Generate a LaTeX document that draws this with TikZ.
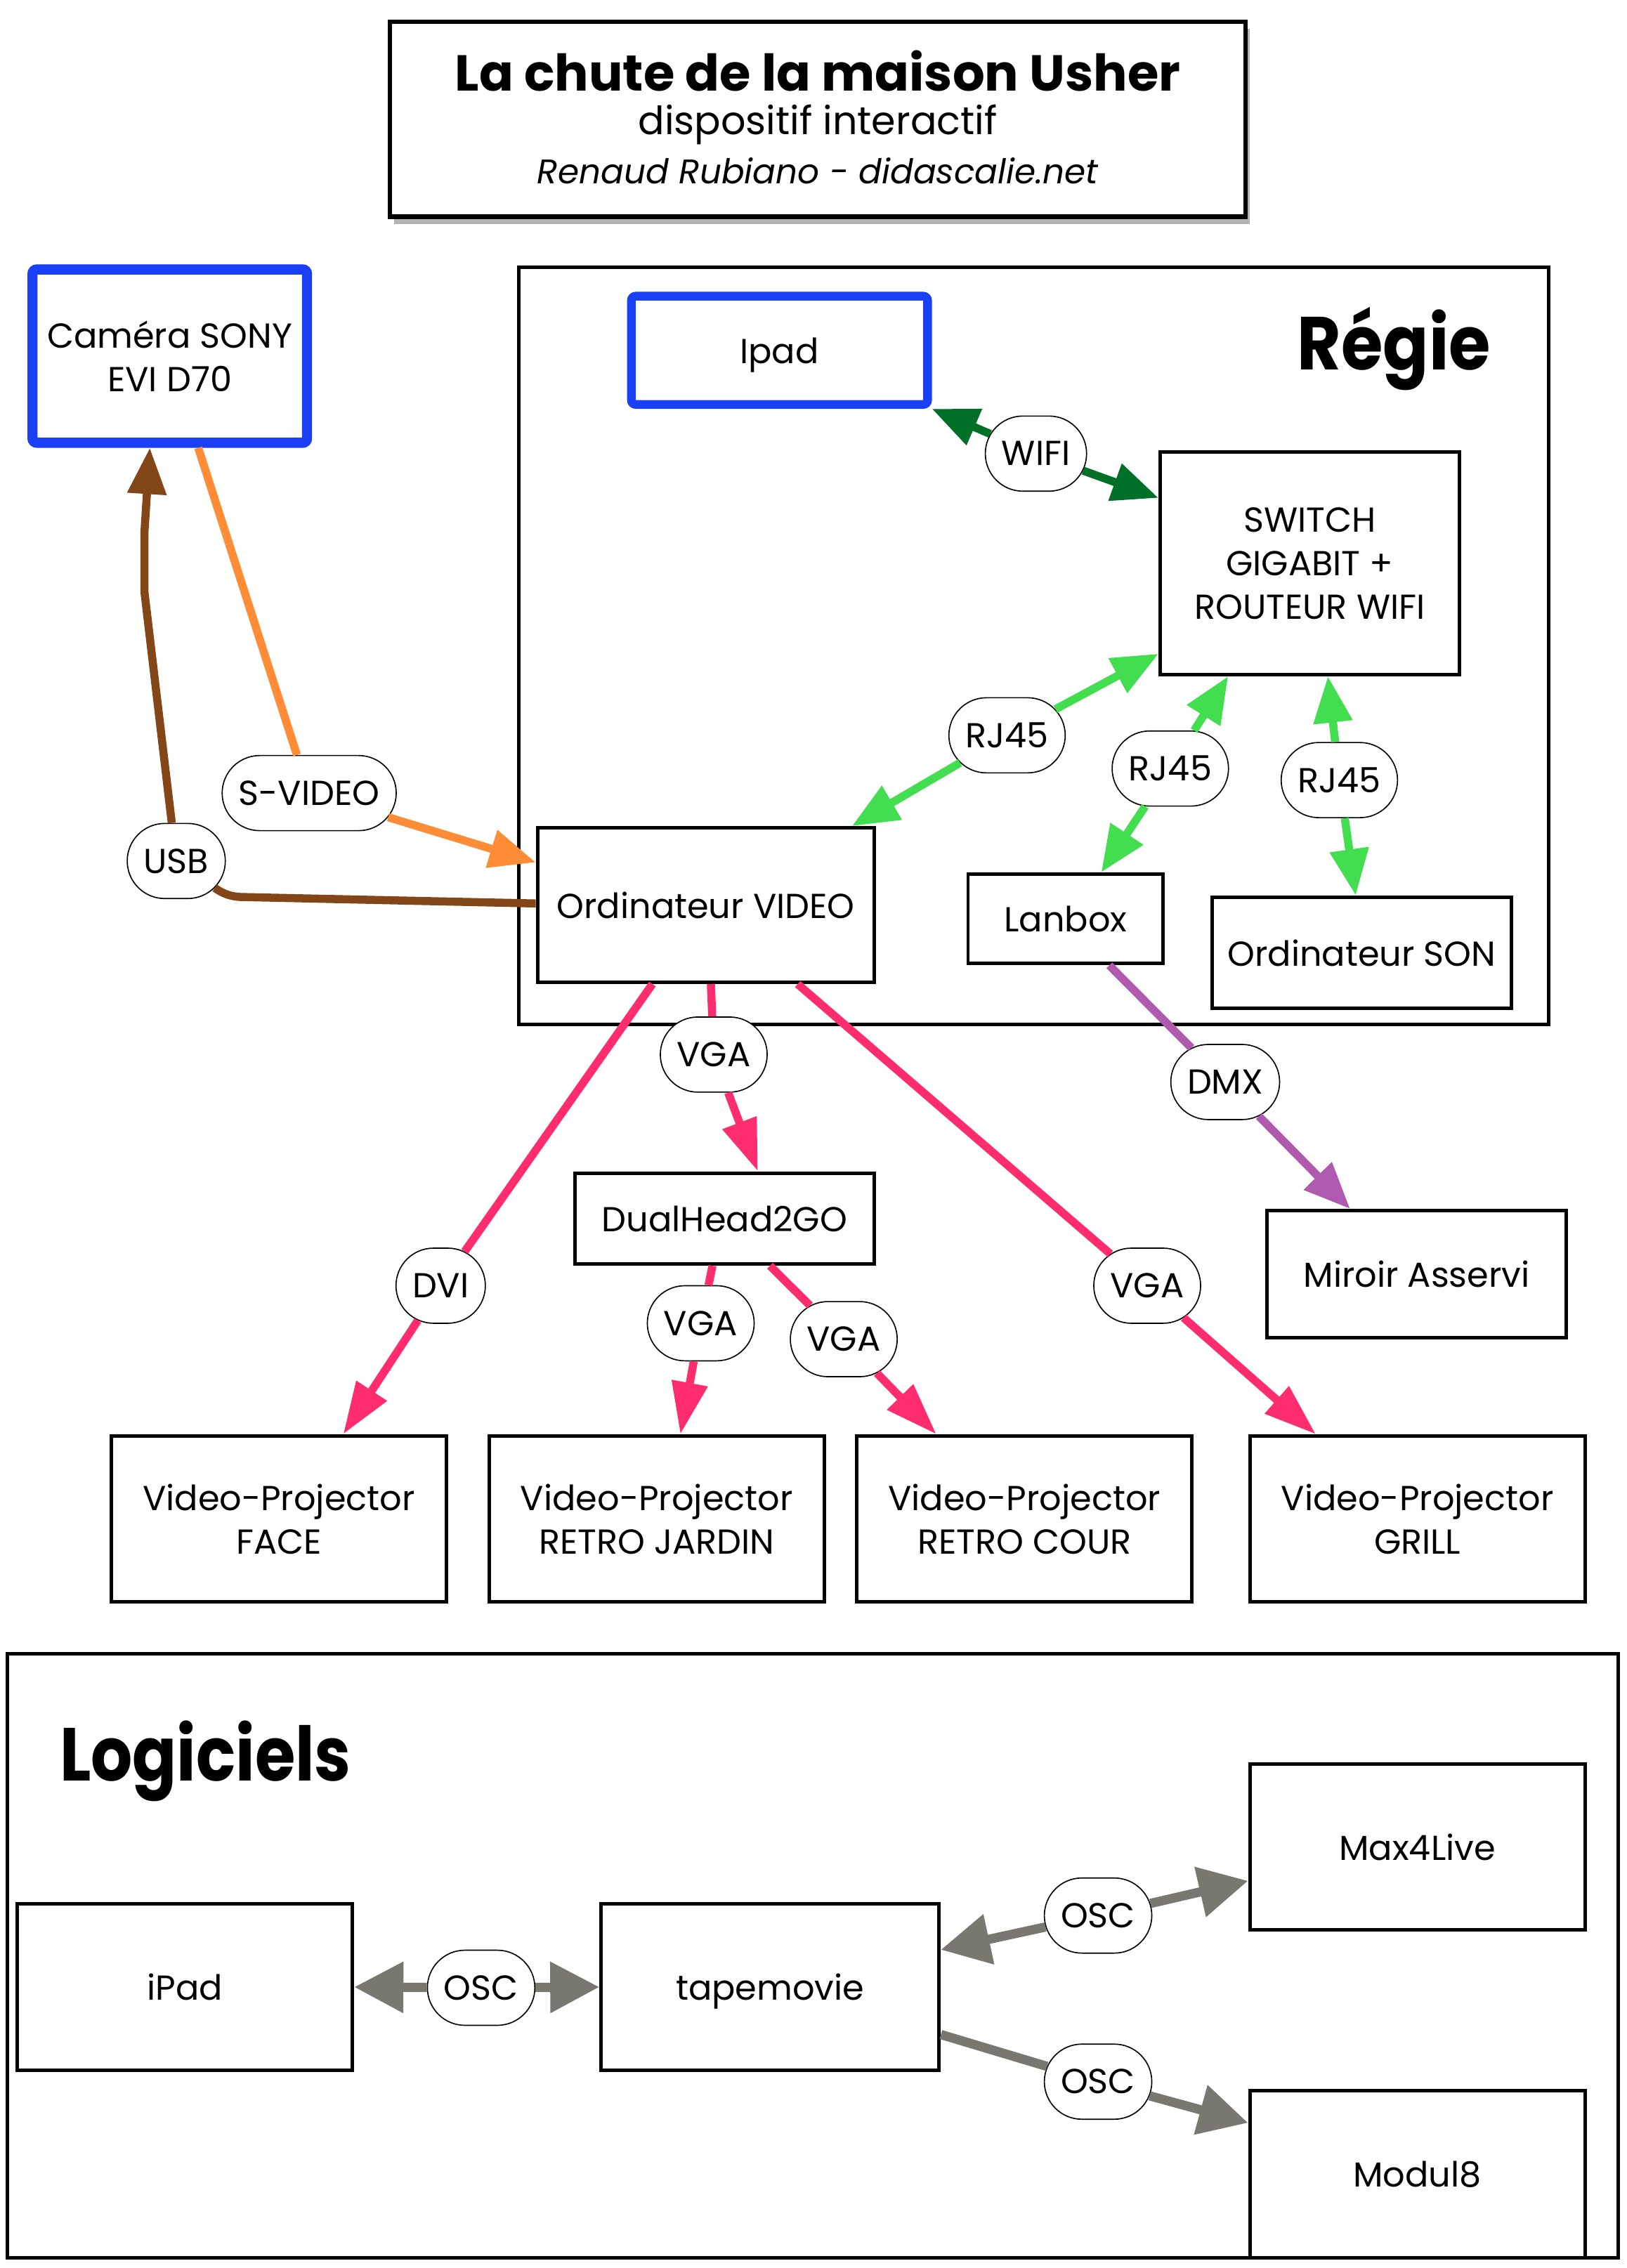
\documentclass[tikz,border=0pt]{standalone}
\usepackage{fontspec}
\setmainfont{Poppins}
\usetikzlibrary{arrows.meta,shapes.misc,shadows,calc}
\definecolor{camblue}{RGB}{25,64,245}
\definecolor{wifigreen}{RGB}{0,112,40}
\definecolor{rjgreen}{RGB}{66,222,80}
\definecolor{vgapink}{RGB}{255,45,110}
\definecolor{svorange}{RGB}{255,140,55}
\definecolor{usbbrown}{RGB}{130,70,25}
\definecolor{dmxpurple}{RGB}{175,90,175}
\definecolor{oscgrey}{RGB}{120,120,112}
\tikzset{
  box/.style={draw=black, line width=1.2pt, fill=white, inner sep=0pt, align=center, font=\fontsize{12}{15}\selectfont},
  onebox/.style={box, text depth=0pt},
  bluebox/.style={box, draw=camblue, line width=3.5pt, rounded corners=1.5pt},
  lbl/.style={draw=black, line width=0.4pt, fill=white, rounded rectangle, minimum height=26pt, inner xsep=5pt, font=\fontsize{12}{14}\selectfont},
  conn/.style={line width=2.8pt},
  tip/.style={-{Triangle[length=16pt,width=13pt]}},
  ptip/.style={-{Triangle[length=18pt,width=12pt]}},
  gtip/.style={-{Triangle[length=17pt,width=17pt]}},
}
\begin{document}
\begin{tikzpicture}[x=0.5pt,y=-0.5pt]
\useasboundingbox (0,0) rectangle (1126,1570);
% frames
\node[draw=black, line width=1.2pt, minimum width=356.5pt, minimum height=262pt, inner sep=0pt] (regie) at (715.5,447) {};
\node[draw=black, line width=1.2pt, minimum width=557.5pt, minimum height=209pt, inner sep=0pt] (logi) at (562.5,1354) {};
\node[font=\bfseries\fontsize{26}{28}\selectfont, anchor=base east, inner sep=0pt] (regiet) at (1032,256) {\scalebox{0.9}[1]{Régie}};
\node[font=\bfseries\fontsize{26}{28}\selectfont, anchor=base west, inner sep=0pt] (logit) at (41,1233) {\scalebox{0.87}[1]{Logiciels}};
% title
\node[draw=black, line width=1.5pt, fill=white, minimum width=296pt, minimum height=67.5pt, inner sep=0pt,
      drop shadow={shadow xshift=1.5pt, shadow yshift=-2.5pt, opacity=0.6}] (title) at (566,82.5) {};
\node[font=\bfseries\fontsize{17.5}{20}\selectfont, anchor=base, inner sep=0pt] (t1) at (566,63) {La chute de la maison Usher};
\node[font=\fontsize{13.5}{16}\selectfont, anchor=base, inner sep=0pt] (t2) at (566,93) {dispositif interactif};
\node[font=\itshape\fontsize{11.8}{14}\selectfont, anchor=base, inner sep=0pt] (t3) at (566,127) {Renaud Rubiano - didascalie.net};
% boxes
\node[bluebox, minimum width=95pt, minimum height=60pt] (cam) at (117.5,246.5) {Caméra SONY\\EVI D70};
\node[bluebox, text depth=0pt, line width=3pt, minimum width=102.5pt, minimum height=37.5pt] (ipad) at (539.5,242.5) {Ipad};
\node[box, minimum width=103.5pt, minimum height=77pt] (sw) at (906.5,390) {SWITCH\\GIGABIT +\\ROUTEUR WIFI};
\node[onebox, minimum width=116.5pt, minimum height=53.5pt] (ov) at (488.5,626.5) {Ordinateur VIDEO};
\node[onebox, minimum width=67.5pt, minimum height=31pt] (lan) at (737.5,636) {Lanbox};
\node[onebox, minimum width=103.5pt, minimum height=38.5pt] (son) at (942.5,659.5) {Ordinateur SON};
\node[onebox, minimum width=103.5pt, minimum height=31.5pt] (dh) at (501.5,843.5) {DualHead2GO};
\node[onebox, minimum width=103.5pt, minimum height=44pt] (mir) at (980.5,882) {Miroir Asservi};
\node[box, minimum width=116pt, minimum height=57.5pt] (face) at (193,1051.5) {Video-Projector\\FACE};
\node[box, minimum width=116pt, minimum height=57.5pt] (jar) at (454.5,1051.5) {Video-Projector\\RETRO JARDIN};
\node[box, minimum width=116pt, minimum height=57.5pt] (cour) at (709,1051.5) {Video-Projector\\RETRO COUR};
\node[box, minimum width=116pt, minimum height=57.5pt] (grill) at (981,1051.5) {Video-Projector\\GRILL};
\node[onebox, minimum width=116pt, minimum height=57.5pt] (max) at (981,1278.5) {Max4Live};
\node[onebox, minimum width=116pt, minimum height=57.5pt] (ipad2) at (128,1375.5) {iPad};
\node[onebox, minimum width=117pt, minimum height=57.5pt] (tape) at (533,1375.5) {tapemovie};
\node[onebox, minimum width=116pt, minimum height=58pt] (mod) at (981,1505) {Modul8};
% labels
\node[lbl] (lwifi) at (717,314) {WIFI};
\node[lbl] (lrja) at (697,509) {RJ45};
\node[lbl] (lrjb) at (810,532) {RJ45};
\node[lbl] (lrjc) at (927,540) {RJ45};
\node[lbl] (lsv) at (214,549) {S-VIDEO};
\node[lbl] (lusb) at (122,596) {USB};
\node[lbl] (lvga) at (494,730) {VGA};
\node[lbl] (ldvi) at (305,890) {DVI};
\node[lbl] (lvgag) at (794,890) {VGA};
\node[lbl] (ldmx) at (848,749) {DMX};
\node[lbl] (lvgaj) at (485,916) {VGA};
\node[lbl] (lvgac) at (584,927) {VGA};
\node[lbl] (losc1) at (333,1376) {OSC};
\node[lbl] (losc2) at (760,1326) {OSC};
\node[lbl] (losc3) at (760,1441) {OSC};
% bend points of the USB cable
\coordinate (ub1) at (170,621);
\coordinate (ub2) at (100,410);
\coordinate (ub3) at (100,368);
% connectors (double-headed ones drawn as two halves from their label)
\draw[conn, wifigreen, tip] (lwifi) -- (ipad.south east);
\draw[conn, wifigreen, tip] (lwifi) -- ($(sw.north west)!0.21!(sw.south west)$);
\draw[conn, rjgreen, tip] (lrja) -- ($(sw.north west)!0.9!(sw.south west)$);
\draw[conn, rjgreen, tip] (lrja) -- ($(ov.north west)!0.93!(ov.north east)$);
\draw[conn, rjgreen, tip] (lrjb) -- ($(sw.south west)!0.23!(sw.south east)$);
\draw[conn, rjgreen, tip] (lrjb) -- ($(lan.north west)!0.68!(lan.north east)$);
\draw[conn, rjgreen, tip] (lrjc) -- ($(sw.south west)!0.56!(sw.south east)$);
\draw[conn, rjgreen, tip] (lrjc) -- ($(son.north west)!0.48!(son.north east)$);
\draw[conn, svorange, tip] ($(cam.south west)!0.6!(cam.south east)$) -- (lsv) -- ($(ov.north west)!0.23!(ov.south west)$);
\draw[conn, usbbrown] ($(ov.north west)!0.49!(ov.south west)$) -- (ub1) to[out=180,in=-35] (lusb);
\draw[conn, usbbrown, tip] (lusb) -- (ub2) -- (ub3) -- ($(cam.south west)!0.43!(cam.south east)$);
\draw[conn, vgapink, ptip] ($(ov.south west)!0.515!(ov.south east)$) -- (lvga) -- ($(dh.north west)!0.61!(dh.north east)$);
\draw[conn, vgapink, ptip] ($(ov.south west)!0.343!(ov.south east)$) -- (ldvi) -- ($(face.north west)!0.69!(face.north east)$);
\draw[conn, vgapink, ptip] ($(ov.south west)!0.77!(ov.south east)$) -- (lvgag) -- ($(grill.north west)!0.2!(grill.north east)$);
\draw[conn, dmxpurple, tip] ($(lan.south west)!0.72!(lan.south east)$) -- (ldmx) -- ($(mir.north west)!0.28!(mir.north east)$);
\draw[conn, vgapink, ptip] ($(dh.south west)!0.46!(dh.south east)$) -- (lvgaj) -- ($(jar.north west)!0.57!(jar.north east)$);
\draw[conn, vgapink, ptip] ($(dh.south west)!0.65!(dh.south east)$) -- (lvgac) -- ($(cour.north west)!0.24!(cour.north east)$);
\draw[conn, line width=3.2pt, oscgrey, gtip] (losc1) -- (ipad2.east);
\draw[conn, line width=3.2pt, oscgrey, gtip] (losc1) -- (tape.west);
\draw[conn, line width=3.2pt, oscgrey, gtip] (losc2) -- ($(tape.north east)!0.28!(tape.south east)$);
\draw[conn, line width=3.2pt, oscgrey, gtip] (losc2) -- ($(max.north west)!0.7!(max.south west)$);
\draw[conn, line width=3.2pt, oscgrey, gtip] ($(tape.north east)!0.78!(tape.south east)$) -- (losc3) -- ($(mod.north west)!0.2!(mod.south west)$);
\end{tikzpicture}
\end{document}
